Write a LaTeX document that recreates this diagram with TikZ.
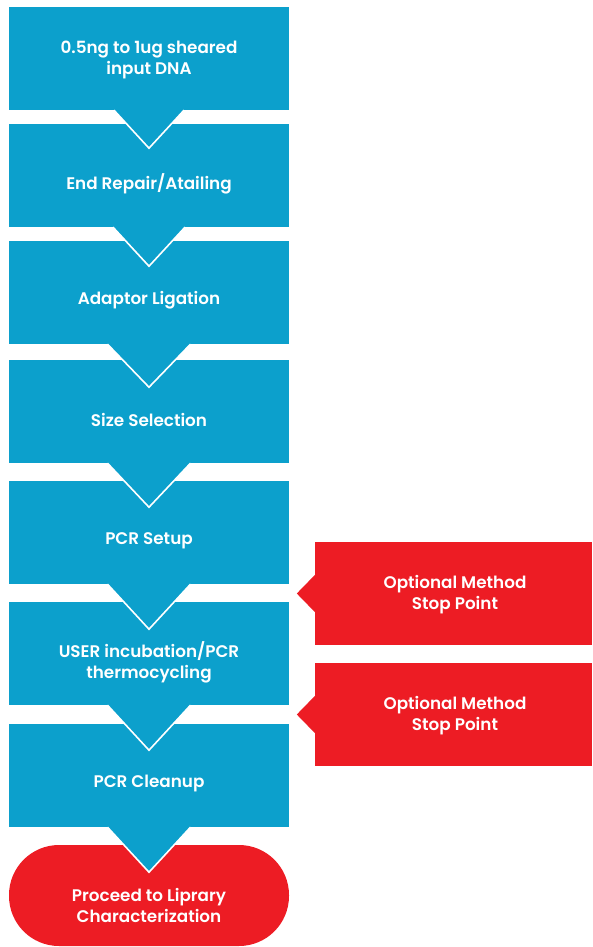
\documentclass[tikz,border=0pt]{standalone}
\usepackage{fontspec}
\setmainfont{Poppins}[UprightFont={* SemiBold}]
\usetikzlibrary{calc}
\definecolor{flowblue}{RGB}{12,160,204}
\definecolor{flowred}{RGB}{237,28,36}
\begin{document}
\begin{tikzpicture}[x=1pt,y=-1pt,
  box/.style={rectangle,fill=flowblue,draw=none,minimum width=280pt,minimum height=103pt,inner sep=0pt},
  redbox/.style={rectangle,fill=flowred,draw=none,minimum width=277pt,minimum height=103pt,inner sep=0pt},
  pill/.style={rectangle,rounded corners=50pt,fill=flowred,draw=none,minimum width=280pt,minimum height=101pt,inner sep=0pt},
  txt/.style={text=white,font=\fontsize{16.8}{21}\selectfont,align=center,inner sep=0pt,yshift=-1.5pt},
  chevfill/.style={fill=flowblue,draw=none},
  chevline/.style={draw=white,line width=1.6pt},
  notch/.style={fill=flowred,draw=none}]
\useasboundingbox (0,0) rectangle (592,947);
% blue steps
\node[box] (b1) at (149,58.5) {};
\node[box] (b2) at (149,175.5) {};
\node[box] (b3) at (149,292.5) {};
\node[box] (b4) at (149,411.5) {};
\node[box] (b5) at (149,532.5) {};
\node[box] (b6) at (149,653.5) {};
\node[box] (b7) at (149,775.5) {};
\node[pill] (p) at (149,895.5) {};
% chevrons
\foreach \a/\w/\d in {b1/35/38,b2/36/39,b3/41.5/43,b4/41.5/44,b5/41.5/45,b6/41.5/45,b7/41.5/45}{
  \fill[chevfill] ($(\a.south)+(-\w,0)$) -- ($(\a.south)+(0,\d)$) -- ($(\a.south)+(\w,0)$) -- cycle;
  \draw[chevline] ($(\a.south)+(-\w,0)$) -- ($(\a.south)+(0,\d)$) -- ($(\a.south)+(\w,0)$);
}
% red stop points
\node[redbox] (r1) at (453.5,593.5) {};
\node[redbox] (r2) at (453.5,714.5) {};
\foreach \r in {r1,r2}{
  \fill[notch] ($(\r.west)+(0.5,-19)$) -- ($(\r.west)+(-18,0)$) -- ($(\r.west)+(0.5,19)$) -- cycle;
}
% texts
\node[txt] (t1) at (149,58) {0.5ng to 1ug sheared\\input DNA};
\node[txt] (t2) at (149,182) {End Repair/Atailing};
\node[txt] (t3) at (149,299) {Adaptor Ligation};
\node[txt] (t4) at (149,418) {Size Selection};
\node[txt] (t5) at (149,539) {PCR Setup};
\node[txt] (t6) at (149,660.5) {USER incubation/PCR\\thermocycling};
\node[txt] (t7) at (149,782) {PCR Cleanup};
\node[txt] (t8) at (149,903.5) {Proceed to Liprary\\Characterization};
\node[txt] (s1) at (455,593.5) {Optional Method\\Stop Point};
\node[txt] (s2) at (455,714.5) {Optional Method\\Stop Point};
\end{tikzpicture}
\end{document}
